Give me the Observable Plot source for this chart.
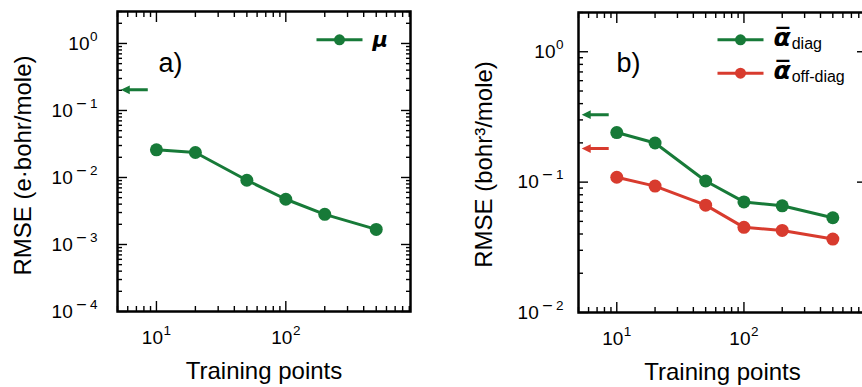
<!DOCTYPE html>
<html><head><meta charset="utf-8">
<script src="https://cdn.jsdelivr.net/npm/d3@7"></script>
<script src="https://cdn.jsdelivr.net/npm/@observablehq/plot@0.6"></script>
<style>
body{margin:0;background:#fff;}
#wrap{position:relative;width:862px;height:387px;overflow:hidden;background:#fff;}
#wrap svg{position:absolute;top:0;}
</style></head><body><div id="wrap"></div>
<script>
// ---- data ----
const trainingPoints = [10, 20, 50, 100, 200, 500];
const rmseMu = [0.0259, 0.0236, 0.0091, 0.00473, 0.00282, 0.00168];
const rmseAlphaDiag = [0.240, 0.1995, 0.102, 0.0705, 0.0658, 0.0533];
const rmseAlphaOffDiag = [0.109, 0.0932, 0.0666, 0.045, 0.0426, 0.0366];
const refMu = [0.203];
const refAlphaDiag = [0.329];
const refAlphaOffDiag = [0.181];
const arrowTipX = 5.3;
const xTicks = [10, 100];
const xTickLabels = ["10^1", "10^2"];
const yTicksA = [1e-4, 1e-3, 1e-2, 1e-1, 1];
const yTickLabelsA = ["10^\u22124", "10^\u22123", "10^\u22122", "10^\u22121", "10^0"];
const yTicksB = [1e-2, 1e-1, 1];
const yTickLabelsB = ["10^\u22122", "10^\u22121", "10^0"];
const xDomain = [5, 920];
const yDomainA = [1e-4, 3];
const yDomainB = [1e-2, 2];

const GREEN = "#177a38";
const RED = "#d83b2e";
const FONT = "'Liberation Sans', Arial, Helvetica, sans-serif";

function minorTicks([lo, hi]) {
  const out = [];
  for (let e = Math.floor(Math.log10(lo)); e <= Math.ceil(Math.log10(hi)); e++)
    for (let m = 2; m <= 9; m++) { const v = m * 10 ** e; if (v >= lo && v <= hi) out.push(v); }
  return out;
}
const labelOf = (ticks, labels) => d => labels[ticks.findIndex(t => Math.abs(t - d) / t < 1e-6)];

const arrowSymbol = {draw(ctx) {
  ctx.moveTo(0, 0); ctx.lineTo(9, -4.4); ctx.lineTo(9, -1.5); ctx.lineTo(27, -1.5);
  ctx.lineTo(27, 1.5); ctx.lineTo(9, 1.5); ctx.lineTo(9, 4.4); ctx.closePath();
}};
const legendLineSymbol = {draw(ctx) { ctx.rect(-23, -1.5, 46, 3); }};

function tickMarks(xMinor, yMajor, yMinor) {
  const o = {stroke: "black", strokeWidth: 1.4, tickFormat: () => "", label: null};
  return [
    Plot.axisX(xTicks, {...o, anchor: "bottom", tickSize: -10}),
    Plot.axisX(xTicks, {...o, anchor: "top", tickSize: -10}),
    Plot.axisX(xMinor, {...o, anchor: "bottom", tickSize: -5}),
    Plot.axisX(xMinor, {...o, anchor: "top", tickSize: -5}),
    Plot.axisY(yMajor, {...o, anchor: "left", tickSize: -10}),
    Plot.axisY(yMajor, {...o, anchor: "right", tickSize: -10}),
    Plot.axisY(yMinor, {...o, anchor: "left", tickSize: -5}),
    Plot.axisY(yMinor, {...o, anchor: "right", tickSize: -5})
  ];
}

function legendEntry(label, color, dxMarker, dxText, dy, textOpts) {
  return [
    Plot.dot([0], {x: null, y: null, frameAnchor: "top-right", dx: dxMarker, dy, symbol: legendLineSymbol, fill: color, stroke: "none"}),
    Plot.dot([0], {x: null, y: null, frameAnchor: "top-right", dx: dxMarker, dy, r: 5.5, fill: color}),
    Plot.text([label], {x: null, y: null, text: d => d, frameAnchor: "top-right", dx: dxText, dy, textAnchor: "start", lineAnchor: "middle", ...textOpts})
  ];
}

function postProcess(svg) {
  const ns = "http://www.w3.org/2000/svg";
  const span = (txt, attrs) => {
    const e = document.createElementNS(ns, "tspan"); e.textContent = txt;
    for (const k in attrs) e.setAttribute(k, attrs[k]);
    return e;
  };
  svg.querySelectorAll("text").forEach(t => {
    const s = t.textContent;
    let i = s.indexOf("^");
    if (i >= 0) {
      t.textContent = "";
      t.setAttribute("font-size", "19");
      const exp = s.slice(i + 1);
      const parts = [span(s.slice(0, i), {})];
      if (exp.startsWith("\u2212")) {
        parts.push(span("\u2212", {"font-family": "'DejaVu Sans'", "font-size": "14", dy: "-9", dx: "3"}));
        parts.push(span(exp.slice(1), {"font-size": "13.5", dx: "2.5"}));
      } else {
        parts.push(span(exp, {"font-size": "13.5", dy: "-9", dx: "0.5"}));
      }
      t.append(...parts);
      return;
    }
    i = s.indexOf("|");
    if (i >= 0) {
      t.textContent = "";
      t.append(
        span(s.slice(0, i) + "\u0305", {"font-family": "'DejaVu Sans'", "font-weight": "bold", "font-style": "italic", "font-size": "25"}),
        span(s.slice(i + 1), {"font-size": "16", dy: "3", dx: "1"})
      );
    }
  });
}

const wrap = document.getElementById("wrap");

// ---- panel a ----
const plotA = Plot.plot({
  width: 431, height: 387,
  marginLeft: 117, marginRight: 21, marginTop: 11, marginBottom: 76,
  style: {fontFamily: FONT, fontSize: "18px", color: "black", background: "transparent"},
  x: {type: "log", domain: xDomain},
  y: {type: "log", domain: yDomainA},
  marks: [
    ...tickMarks(minorTicks(xDomain), yTicksA, minorTicks(yDomainA)),
    Plot.axisX(xTicks, {anchor: "bottom", tickSize: 0, tickPadding: 19, tickFormat: labelOf(xTicks, xTickLabels), label: null}),
    Plot.axisY(yTicksA, {anchor: "left", tickSize: 0, tickPadding: 20, tickFormat: labelOf(yTicksA, yTickLabelsA), label: null}),
    Plot.text(["RMSE (e\u00b7bohr/mole)"], {x: null, y: null, text: d => d, frameAnchor: "left", textAnchor: "middle", lineAnchor: "middle", rotate: -90, dx: -94, dy: 4, fontSize: 24}),
    Plot.text(["Training points"], {x: null, y: null, text: d => d, frameAnchor: "bottom", dy: 67, fontSize: 24}),
    Plot.text(["a)"], {x: null, y: null, text: d => d, frameAnchor: "top-left", dx: 41, dy: 52, textAnchor: "start", lineAnchor: "middle", fontSize: 27}),
    Plot.dot(refMu, {x: () => arrowTipX, y: d => d, symbol: arrowSymbol, fill: GREEN, stroke: "none"}),
    Plot.line(trainingPoints, {x: d => d, y: (d, i) => rmseMu[i], stroke: GREEN, strokeWidth: 3}),
    Plot.dot(trainingPoints, {x: d => d, y: (d, i) => rmseMu[i], r: 6.5, fill: GREEN}),
    ...legendEntry("\u03bc", GREEN, -71, -38, 28.3, {fontFamily: "'DejaVu Sans'", fontWeight: "bold", fontStyle: "italic", fontSize: 21}),
    Plot.frame({stroke: "black", strokeWidth: 2.5})
  ]
});
plotA.style.left = "0px";
postProcess(plotA);
wrap.append(plotA);

// ---- panel b ----
const plotB = Plot.plot({
  width: 440, height: 387,
  marginLeft: 147, marginRight: 5, marginTop: 12, marginBottom: 75,
  style: {fontFamily: FONT, fontSize: "18px", color: "black", background: "transparent"},
  x: {type: "log", domain: xDomain},
  y: {type: "log", domain: yDomainB},
  marks: [
    ...tickMarks(minorTicks(xDomain), yTicksB, minorTicks(yDomainB)),
    Plot.axisX(xTicks, {anchor: "bottom", tickSize: 0, tickPadding: 19, tickFormat: labelOf(xTicks, xTickLabels), label: null}),
    Plot.axisY(yTicksB, {anchor: "left", tickSize: 0, tickPadding: 15, tickFormat: labelOf(yTicksB, yTickLabelsB), label: null}),
    Plot.text(["RMSE (bohr\u00b3/mole)"], {x: null, y: null, text: d => d, frameAnchor: "left", textAnchor: "middle", lineAnchor: "middle", rotate: -90, dx: -94, dy: 2, fontSize: 24}),
    Plot.text(["Training points"], {x: null, y: null, text: d => d, frameAnchor: "bottom", dy: 67, fontSize: 24}),
    Plot.text(["b)"], {x: null, y: null, text: d => d, frameAnchor: "top-left", dx: 38, dy: 50.5, textAnchor: "start", lineAnchor: "middle", fontSize: 27}),
    Plot.dot(refAlphaDiag, {x: () => arrowTipX, y: d => d, symbol: arrowSymbol, fill: GREEN, stroke: "none"}),
    Plot.dot(refAlphaOffDiag, {x: () => arrowTipX, y: d => d, symbol: arrowSymbol, fill: RED, stroke: "none"}),
    Plot.line(trainingPoints, {x: d => d, y: (d, i) => rmseAlphaDiag[i], stroke: GREEN, strokeWidth: 3}),
    Plot.dot(trainingPoints, {x: d => d, y: (d, i) => rmseAlphaDiag[i], r: 6.5, fill: GREEN}),
    Plot.line(trainingPoints, {x: d => d, y: (d, i) => rmseAlphaOffDiag[i], stroke: RED, strokeWidth: 3}),
    Plot.dot(trainingPoints, {x: d => d, y: (d, i) => rmseAlphaOffDiag[i], r: 6.5, fill: RED}),
    ...legendEntry("\u03b1|diag", GREEN, -126, -93, 27.3, {}),
    ...legendEntry("\u03b1|off-diag", RED, -126, -93, 60.7, {}),
    Plot.frame({stroke: "black", strokeWidth: 2.5})
  ]
});
plotB.style.left = "431px";
postProcess(plotB);
wrap.append(plotB);
</script></body></html>
